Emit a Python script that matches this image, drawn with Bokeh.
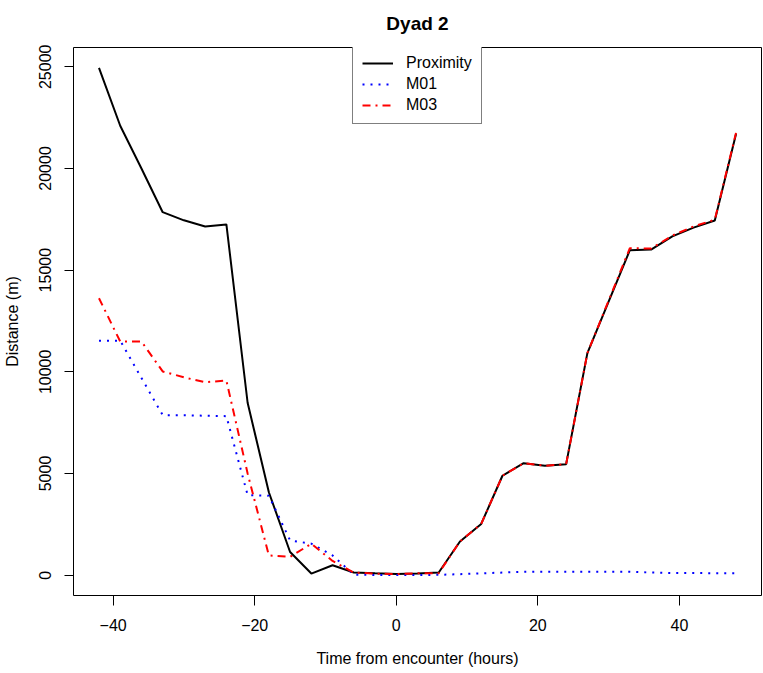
from bokeh.plotting import figure
from bokeh.models import Range1d, FixedTicker, NumeralTickFormatter, Legend, LegendItem
from bokeh.embed import file_html
from bokeh.resources import INLINE

hours = [-42, -39, -36, -33, -30, -27, -24, -21, -18, -15, -12, -9, -6, -3, 0, 3,
         6, 9, 12, 15, 18, 21, 24, 27, 30, 33, 36, 39, 42, 45, 48]
proximity = [24950, 22100, 20000, 17850, 17450, 17150, 17250, 8480, 4080, 1140, 80,
             490, 130, 90, 60, 80, 130, 1660, 2520, 4890, 5510, 5380, 5460, 10920,
             13450, 15980, 16010, 16660, 17090, 17440, 21700]
m01 = [11530, 11530, 9700, 7870, 7870, 7840, 7820, 3940, 3910, 1710, 1550, 970, 30,
       10, 10, 10, 20, 50, 90, 130, 165, 175, 175, 175, 175, 170, 130, 110, 105, 100, 100]
m03 = [13620, 11490, 11490, 10020, 9730, 9490, 9570, 5000, 970, 900, 1550, 700, 130,
       80, 60, 90, 100, 1660, 2520, 4890, 5510, 5380, 5460, 10920, 13500, 16080, 16060,
       16700, 17150, 17480, 21750]
x_ticks = [-40, -20, 0, 20, 40]
y_ticks = [0, 5000, 10000, 15000, 20000, 25000]

FONT = "Liberation Sans"

p = figure(width=763, height=673, output_backend="svg", toolbar_location=None,
           x_range=Range1d(-45.6, 51.6), y_range=Range1d(-998, 25948),
           min_border_left=73, min_border_right=2, min_border_top=46, min_border_bottom=78,
           title="Dyad 2")
p.title.align = "center"
p.title.vertical_align = "top"
p.title.text_font = FONT
p.title.text_font_size = "19px"
p.title.text_font_style = "bold"
p.title.text_color = "black"
p.title.standoff = 24

p.xgrid.visible = False
p.ygrid.visible = False
p.outline_line_color = "black"
p.outline_line_width = 1
p.background_fill_color = "white"
p.border_fill_color = "white"

p.xaxis.ticker = FixedTicker(ticks=x_ticks)
p.yaxis.ticker = FixedTicker(ticks=y_ticks)
p.yaxis.formatter = NumeralTickFormatter(format="0")
p.yaxis.major_label_orientation = "vertical"
for ax in (p.xaxis, p.yaxis):
    ax.axis_line_color = None
    ax.minor_tick_line_color = None
    ax.major_tick_in = 0
    ax.major_tick_line_color = "black"
    ax.major_label_text_font = FONT
    ax.major_label_text_font_size = "16px"
    ax.major_label_text_color = "black"
    ax.axis_label_text_font = FONT
    ax.axis_label_text_font_size = "16px"
    ax.axis_label_text_font_style = "normal"
    ax.axis_label_text_color = "black"
p.xaxis.major_tick_out = 10
p.yaxis.major_tick_out = 9
p.xaxis.major_label_standoff = 13
p.yaxis.major_label_standoff = 13
p.xaxis.axis_label_standoff = 16
p.yaxis.axis_label_standoff = 16
p.xaxis.axis_label = "Time from encounter (hours)"
p.yaxis.axis_label = "Distance (m)"

r0 = p.line(hours, proximity, line_color="black", line_width=2)
r1 = p.line(hours, m01, line_color="blue", line_width=2, line_dash="2 6")
r2 = p.line(hours, m03, line_color="red", line_width=2, line_dash="8 5 2 5")

legend = Legend(items=[LegendItem(label="Proximity", renderers=[r0]),
                       LegendItem(label="M01", renderers=[r1]),
                       LegendItem(label="M03", renderers=[r2])],
                location=(279, 471))
legend.label_text_font = FONT
legend.label_text_font_size = "16px"
legend.label_text_color = "black"
legend.glyph_width = 31
legend.glyph_height = 16
legend.label_height = 16
legend.label_standoff = 13
legend.spacing = 3
legend.padding = 9
legend.margin = 0
legend.border_line_color = "black"
legend.border_line_width = 1
legend.background_fill_color = "white"
legend.background_fill_alpha = 1
p.add_layout(legend)

open("out.html", "w").write(file_html(p, INLINE))
